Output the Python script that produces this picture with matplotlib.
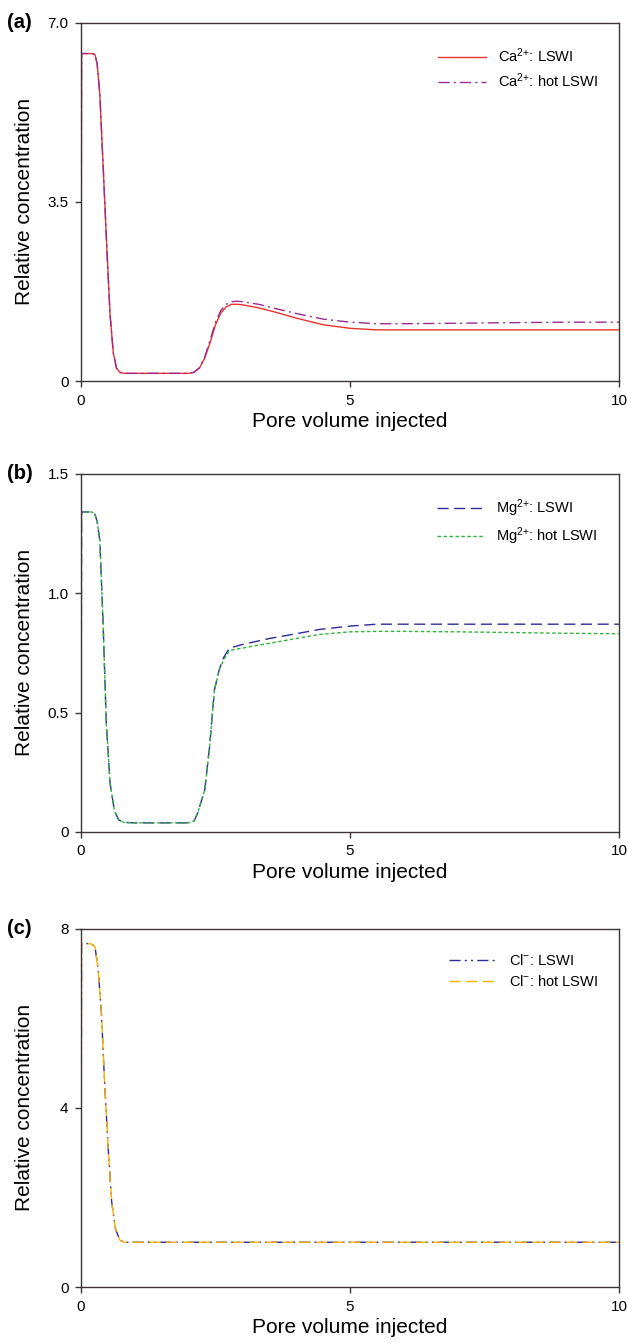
import matplotlib.pyplot as plt

plt.rcParams['font.family'] = ['Liberation Sans', 'DejaVu Sans']
plt.rcParams['mathtext.default'] = 'regular'

# panel (a): Ca2+
x_a = [0, 0.01, 0.05, 0.2, 0.26, 0.3, 0.35, 0.42, 0.48, 0.54, 0.6, 0.66, 0.72, 0.8, 1.0, 1.5,
       2.0, 2.1, 2.2, 2.3, 2.4, 2.5, 2.6, 2.7, 2.8, 2.9, 3.0, 3.3, 3.6, 4.0, 4.5, 5.0, 5.5,
       6, 7, 8, 9, 10]
ca_lswi = [0, 6.4, 6.4, 6.4, 6.38, 6.2, 5.6, 4.0, 2.6, 1.3, 0.55, 0.25, 0.17, 0.15, 0.15, 0.15,
           0.15, 0.17, 0.25, 0.45, 0.75, 1.1, 1.33, 1.45, 1.5, 1.5, 1.49, 1.43, 1.35, 1.23, 1.1,
           1.03, 1.0, 1.0, 1.0, 1.0, 1.0, 1.0]
ca_hot = [0, 6.4, 6.4, 6.4, 6.38, 6.2, 5.6, 4.0, 2.6, 1.3, 0.55, 0.25, 0.17, 0.15, 0.15, 0.15,
          0.15, 0.17, 0.26, 0.47, 0.8, 1.15, 1.38, 1.5, 1.55, 1.56, 1.55, 1.5, 1.42, 1.32, 1.21,
          1.15, 1.12, 1.12, 1.13, 1.14, 1.15, 1.15]

# panel (b): Mg2+
x_b = [0, 0.01, 0.05, 0.2, 0.26, 0.3, 0.35, 0.41, 0.47, 0.54, 0.62, 0.7, 0.8, 1.0, 1.5, 2.0,
       2.1, 2.17, 2.3, 2.39, 2.48, 2.57, 2.65, 2.76, 3.0, 3.5, 4.0, 4.43, 5.0, 5.5, 6, 7, 8, 9, 10]
mg_lswi = [0, 1.34, 1.34, 1.34, 1.33, 1.3, 1.22, 0.875, 0.456, 0.205, 0.09, 0.05, 0.04, 0.038,
           0.038, 0.038, 0.045, 0.08, 0.176, 0.357, 0.595, 0.68, 0.73, 0.77, 0.785, 0.81, 0.83,
           0.848, 0.862, 0.87, 0.87, 0.87, 0.87, 0.87, 0.87]
mg_hot = [0, 1.34, 1.34, 1.34, 1.33, 1.3, 1.22, 0.875, 0.456, 0.205, 0.09, 0.05, 0.04, 0.038,
          0.038, 0.038, 0.045, 0.08, 0.176, 0.357, 0.595, 0.68, 0.72, 0.76, 0.77, 0.79, 0.81,
          0.827, 0.838, 0.84, 0.84, 0.838, 0.835, 0.832, 0.83]

# panel (c): Cl-
x_c = [0, 0.01, 0.05, 0.2, 0.26, 0.32, 0.38, 0.43, 0.5, 0.57, 0.64, 0.72, 0.8, 0.9, 1.0,
       2, 4, 6, 8, 10]
cl_lswi = [0, 7.68, 7.68, 7.66, 7.6, 7.08, 6.1, 4.78, 3.2, 1.9, 1.3, 1.05, 1.0, 1.0, 1.0,
           1.0, 1.0, 1.0, 1.0, 1.0]
cl_hot = [0, 7.68, 7.68, 7.66, 7.6, 7.08, 6.1, 4.78, 3.2, 1.9, 1.3, 1.05, 1.0, 1.0, 1.0,
          1.0, 1.0, 1.0, 1.0, 1.0]

x_ticks = [0, 5, 10]
x_ticklabels = ['0', '5', '10']

panels = [
    ('(a)', x_a, ca_lswi, ca_hot, r'Ca$^{2{+}}$: LSWI', r'Ca$^{2{+}}$: hot LSWI',
     dict(color='#e8322c', ls='-'), dict(color='#9b2a93', ls=(0, (8, 3, 1.5, 3))),
     7.0, [0, 3.5, 7.0], ['0', '3.5', '7.0'], 0.7165),
    ('(b)', x_b, mg_lswi, mg_hot, r'Mg$^{2{+}}$: LSWI', r'Mg$^{2{+}}$: hot LSWI',
     dict(color='#2e2a9a', ls=(0, (8, 4))), dict(color='#2fb43a', ls=(0, (2.5, 1.8))),
     1.5, [0, 0.5, 1.0, 1.5], ['0', '0.5', '1.0', '1.5'], 0.381),
    ('(c)', x_c, cl_lswi, cl_hot, r'Cl$^{-}$: LSWI', r'Cl$^{-}$: hot LSWI',
     dict(color='#2e2a9a', ls=(0, (8, 3, 1.5, 3, 1.5, 3))), dict(color='#f5b100', ls=(0, (8, 4))),
     8, [0, 4, 8], ['0', '4', '8'], 0.0424),
]

fig = plt.figure(figsize=(6.28, 13.44), dpi=100)
spine_c = '#3d3535'

for tag, x, y1, y2, lab1, lab2, st1, st2, ymax, yt, ytl, bottom in panels:
    ax = fig.add_axes([0.129, bottom, 0.8567, 0.2665])
    ax.plot(x, y1, lw=1.0, label=lab1, **st1)
    ax.plot(x, y2, lw=1.0, label=lab2, **st2)
    ax.set_xlim(0, 10)
    ax.set_ylim(0, ymax)
    ax.set_xticks(x_ticks)
    ax.set_xticklabels(x_ticklabels)
    ax.set_yticks(yt)
    ax.set_yticklabels(ytl)
    for s in ax.spines.values():
        s.set_color(spine_c)
        s.set_linewidth(1.0)
    ax.tick_params(direction='out', length=4, width=1, color=spine_c, labelsize=11, pad=5)
    ax.set_xlabel('Pore volume injected', fontsize=15, labelpad=3)
    ax.set_ylabel('Relative concentration', fontsize=15)
    ax.yaxis.set_label_coords(-0.087, 0.5)
    ax.legend(loc='upper right', bbox_to_anchor=(0.985, 0.97), frameon=False, fontsize=10.5,
              handlelength=3.3, handletextpad=0.8, labelspacing=0.45)
    fig.text(0.011, bottom + 0.2665, tag, fontsize=14.5, fontweight='bold', va='center', ha='left')

fig.savefig('out.png', dpi=100)
plt.close(fig)
